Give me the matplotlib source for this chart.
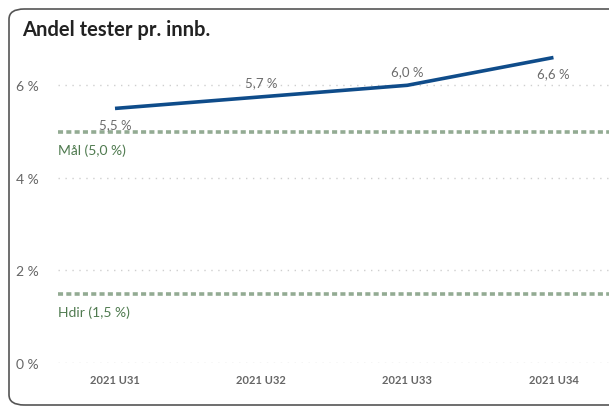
import matplotlib.pyplot as plt
from matplotlib.patches import FancyBboxPatch

# data
weeks = ["2021 U31", "2021 U32", "2021 U33", "2021 U34"]
andel = [5.5, 5.75, 6.0, 6.6]
labels = ["5,5 %", "5,7 %", "6,0 %", "6,6 %"]
label_pos = ["below", "above", "above", "below"]
mal = 5.0
hdir = 1.5
yticks = [0, 2, 4, 6]

plt.rcParams['font.family'] = ['Lato', 'DejaVu Sans']

fig = plt.figure(figsize=(6.09, 4.10), dpi=100)

# card border
card = FancyBboxPatch((9 / 609, 4 / 410), 620 / 609, 396 / 410,
                      boxstyle="round,pad=0,rounding_size=0.025",
                      transform=fig.transFigure, facecolor="none",
                      edgecolor="#555555", linewidth=1.2, zorder=-1)
fig.patches.append(card)

ax = fig.add_axes([58 / 609, 46 / 410, 551 / 609, 324 / 410])
ax.set_facecolor("none")

x = list(range(len(weeks)))
ax.plot(x, andel, color="#0F4C8A", linewidth=2.6, solid_capstyle="butt", zorder=3)

for xi, yi, lab, pos in zip(x, andel, labels, label_pos):
    if pos == "above":
        ax.annotate(lab, (xi, yi), xytext=(0, 6), textcoords="offset points",
                    ha="center", va="bottom", color="#6b6b6b", fontsize=9.5)
    else:
        ax.annotate(lab, (xi, yi), xytext=(0, -7), textcoords="offset points",
                    ha="center", va="top", color="#6b6b6b", fontsize=9.5)

for val, name in [(mal, "Mål (5,0 %)"), (hdir, "Hdir (1,5 %)")]:
    ax.axhline(val, color="#93AB93", linewidth=2.6, linestyle=(0, (1.4, 0.9)), zorder=2)
    ax.text(0.0, val - 0.25, name, transform=ax.get_yaxis_transform(),
            ha="left", va="top", color="#4F7A4F", fontsize=10)

ax.set_xlim(-0.39, 3.38)
ax.set_ylim(0, 7)
ax.set_yticks(yticks)
ax.set_yticklabels([f"{t} %" for t in yticks])
ax.set_xticks(x)
ax.set_xticklabels(weeks)
ax.grid(axis="y", color="#cfcfcf", linestyle=(0, (1, 4)), linewidth=1)
ax.tick_params(axis="y", length=0, pad=14, labelsize=10, labelcolor="#666666")
ax.tick_params(axis="x", length=0, pad=8, labelsize=8, labelcolor="#666666")
for lbl in ax.get_xticklabels():
    lbl.set_fontweight("bold")
for s in ax.spines.values():
    s.set_visible(False)

fig.text(22 / 609, 1 - 30 / 410, "Andel tester pr. innb.", fontsize=14.5,
         fontweight="bold", color="#222222", va="center", ha="left")

fig.savefig("out.png", dpi=100)
